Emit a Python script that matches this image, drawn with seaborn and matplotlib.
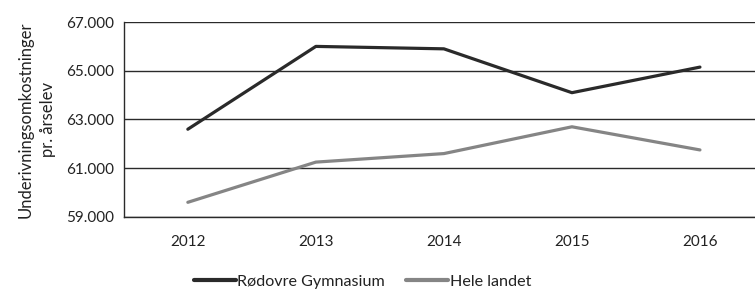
import matplotlib
matplotlib.use('Agg')
import matplotlib.pyplot as plt
import seaborn as sns
import pandas as pd
from matplotlib.ticker import FixedLocator, FuncFormatter

years = ['2012', '2013', '2014', '2015', '2016']
rodovre = [62600, 66000, 65900, 64100, 65150]
hele_landet = [59600, 61250, 61600, 62700, 61750]
series_names = ['Rødovre Gymnasium', 'Hele landet']
colors = ['#2a2a2a', '#858585']

df = pd.DataFrame({
    'year': years * 2,
    'value': rodovre + hele_landet,
    'series': [series_names[0]] * len(years) + [series_names[1]] * len(years),
})

sns.set_style('white')
plt.rcParams['font.family'] = ['Lato', 'DejaVu Sans']

fig, ax = plt.subplots(figsize=(7.55, 2.9), dpi=100)
fig.subplots_adjust(left=0.164, right=1.0, top=0.924, bottom=0.252)

sns.lineplot(data=df, x='year', y='value', hue='series', palette=colors,
             ax=ax, linewidth=2.3, legend=False, sort=False)

ax.set_ylim(59000, 67000)
ax.set_yticks([59000, 61000, 63000, 65000, 67000])
ax.yaxis.set_major_formatter(FuncFormatter(lambda v, p: f'{int(v):,}'.replace(',', '.')))
ax.set_xlim(-0.5, 4.43)
ax.set_xticks(range(len(years)))
ax.set_xticklabels(years)
ax.xaxis.set_minor_locator(FixedLocator([0.5, 1.5, 2.5, 3.5]))
ax.tick_params(axis='x', which='major', length=0, pad=13, labelsize=11, colors='#222222')
ax.tick_params(axis='x', which='minor', length=5, width=1, color='#222222', direction='out')
ax.tick_params(axis='y', which='major', length=4, width=1, labelsize=11,
               colors='#222222', pad=3)

ax.grid(axis='y', color='#2a2a2a', linewidth=1)
ax.set_axisbelow(True)
for side in ['top', 'right']:
    ax.spines[side].set_visible(False)
for side in ['left', 'bottom']:
    ax.spines[side].set_color('#2a2a2a')
    ax.spines[side].set_linewidth(1)

ax.set_xlabel('')
ax.set_ylabel('Underivningsomkostninger\npr. årselev', fontsize=12, color='#222222',
              linespacing=1.5, labelpad=7)

handles = [plt.Line2D([], [], color=c, linewidth=3) for c in colors]
fig.legend(handles, series_names, loc='lower center', bbox_to_anchor=(0.48, -0.045),
           ncol=2, frameon=False, fontsize=11.6, handlelength=2.6, handletextpad=0.1,
           columnspacing=1.3, labelcolor='#222222')

fig.savefig('out.png', dpi=100)
